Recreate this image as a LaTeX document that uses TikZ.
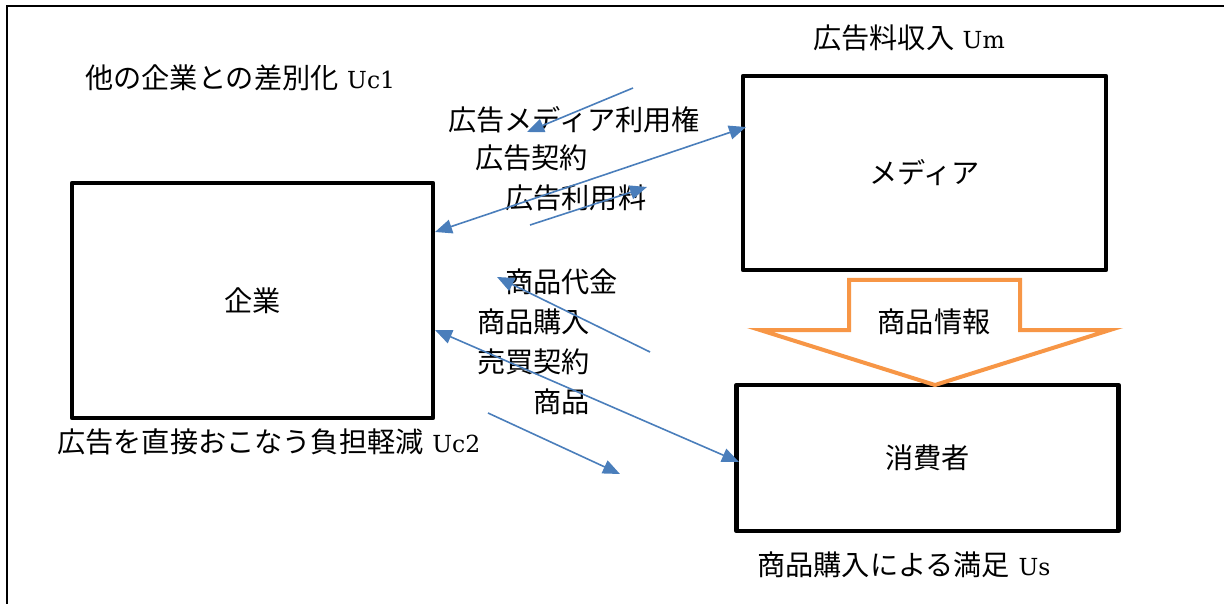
\documentclass[tikz,border=0pt]{standalone}
\usepackage{fontspec}
\newfontfamily\cjk{Noto Sans CJK JP}
\newfontfamily\latn{DejaVu Serif}
\usetikzlibrary{arrows.meta}
\definecolor{blueline}{HTML}{4A7EBB}
\definecolor{orangeline}{HTML}{F79646}
\newcommand\lblsize{\fontsize{28.2}{33}\selectfont}
\newcommand\jtext[1]{{\cjk #1}}
\newcommand\ltext[1]{{\latn\fontsize{23.5}{28}\selectfont #1}}
\begin{document}
\begin{tikzpicture}[x=1pt,y=-1pt,
  box/.style={draw=black, line width=4.5pt, line join=round, fill=white, inner sep=0pt, font=\lblsize\cjk},
  lbl/.style={inner sep=0pt, anchor=west, font=\lblsize},
  flow/.style={draw=blueline, line width=1.6pt, -{Triangle[length=17pt,width=14pt]}},
  flowtwo/.style={draw=blueline, line width=1.6pt, {Triangle[length=17pt,width=14pt]}-{Triangle[length=17pt,width=14pt]}},
  bigarrow/.style={draw=orangeline, line width=4pt, line join=miter, fill=white}
]
\useasboundingbox (0,0) rectangle (1224,604);
% outer frame (top and left edges only)
\draw[line width=1.3pt] (7,604) -- (7,6) -- (1224,6);

% boxes
\node[box, minimum width=361pt, minimum height=235pt] (kigyo) at (252.5,300.5) {企業};
\node[box, minimum width=363pt, minimum height=194pt] (media) at (924.5,173) {メディア};
\node[box, minimum width=382pt, minimum height=146pt] (consumer) at (927.5,458) {消費者};

% orange information arrow
\coordinate (tip) at (935,385);
\draw[bigarrow] (849,280) -- (1020,280) -- (1020,330) -- (1110,330) -- (tip) -- (760,330) -- (849,330) -- cycle;
\node[inner sep=0pt, font=\lblsize\cjk] (info) at (934,322) {商品情報};

% labels
\node[lbl] (uc1) at (85,78) {\jtext{他の企業との差別化} \ltext{Uc1}};
\node[lbl] (uc2) at (57,442) {\jtext{広告を直接おこなう負担軽減} \ltext{Uc2}};
\node[lbl] (us) at (757,565) {\jtext{商品購入による満足} \ltext{Us}};
\node[lbl] (um) at (813,38) {\jtext{広告料収入} \ltext{Um}};
\node[lbl] (l1) at (448,120) {\jtext{広告メディア利用権}};
\node[lbl] (l2) at (475,158) {\jtext{広告契約}};
\node[lbl] (l3) at (505,198) {\jtext{広告利用料}};
\node[lbl] (l4) at (505,282) {\jtext{商品代金}};
\node[lbl] (l5) at (477,322) {\jtext{商品購入}};
\node[lbl] (l6) at (477,362) {\jtext{売買契約}};
\node[lbl] (l7) at (533,402) {\jtext{商品}};

% connector end points
\coordinate (a1s) at (633,88);   \coordinate (a1e) at (527,132);
\coordinate (k1) at (435,232);   \coordinate (m1) at (746,127);
\coordinate (a3s) at (530,225);  \coordinate (a3e) at (647,187);
\coordinate (a4s) at (650,352);  \coordinate (a4e) at (497,277);
\coordinate (k2) at (435,330);   \coordinate (c1) at (739,462);
\coordinate (a6s) at (488,413);  \coordinate (a6e) at (620,474);

% blue arrows
\draw[flow] (a1s) -- (a1e);
\draw[flowtwo] (k1) -- (m1);
\draw[flow] (a3s) -- (a3e);
\draw[flow] (a4s) -- (a4e);
\draw[flowtwo] (k2) -- (c1);
\draw[flow] (a6s) -- (a6e);
\end{tikzpicture}
\end{document}
